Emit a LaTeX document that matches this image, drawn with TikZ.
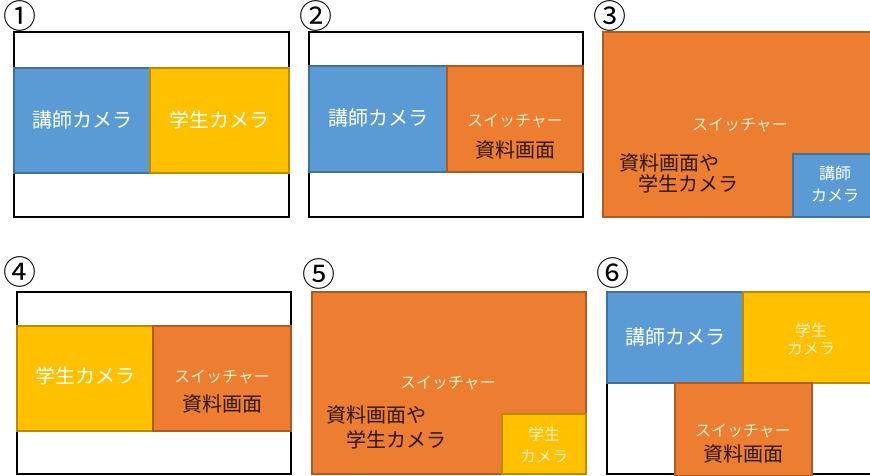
\documentclass[tikz,border=0pt]{standalone}
\usepackage{fontspec}
\setmainfont{Noto Sans CJK JP}
\definecolor{camblue}{HTML}{5B9BD5}
\definecolor{bluebd}{HTML}{41719C}
\definecolor{camyel}{HTML}{FFC000}
\definecolor{yelbd}{HTML}{BC8C00}
\definecolor{swor}{HTML}{ED7D31}
\definecolor{orbd}{HTML}{AE5A21}
\definecolor{paletxt}{HTML}{FFF2CC}
\definecolor{darktxt}{HTML}{2A1A10}
\tikzset{
  frame/.style={draw=black, line width=2.2pt, fill=white},
  bluebox/.style={draw=bluebd, fill=camblue, line width=1.3pt},
  yelbox/.style={draw=yelbd, fill=camyel, line width=1.3pt},
  orbox/.style={draw=orbd, fill=swor, line width=1.3pt},
  camtxt/.style={text=white, font=\fontsize{20pt}{24pt}\selectfont, inner sep=0pt},
  smalltxt/.style={text=white, font=\fontsize{16pt}{22pt}\selectfont, inner sep=0pt, align=center},
  swtxt/.style={text=paletxt, font=\fontsize{16pt}{20pt}\selectfont, inner sep=0pt},
  doctxt/.style={text=darktxt, font=\fontsize{20pt}{24pt}\selectfont, inner sep=0pt},
  numtxt/.style={text=black, font=\fontsize{33pt}{34pt}\selectfont, inner sep=0pt},
}
\begin{document}
\begin{tikzpicture}[x=1pt,y=-1pt]
\useasboundingbox (0,0) rectangle (870,476);
\clip (0,0) rectangle (870,476);
\fill[white] (0,0) rectangle (870,476);

% ---------- Panel 1 ----------
\node[numtxt] (n1) at (20,16) {①};
\draw[frame] (14,32) rectangle (289,217);
\draw[bluebox] (14,68) rectangle (150,173);
\draw[yelbox] (150,68) rectangle (289,173);
\node[camtxt] (p1a) at (82,120) {講師カメラ};
\node[camtxt] (p1b) at (219,120) {学生カメラ};

% ---------- Panel 2 ----------
\node[numtxt] (n2) at (316,16) {②};
\draw[frame] (309,32) rectangle (583,217);
\draw[bluebox] (309,66) rectangle (447,172);
\draw[orbox] (447,66) rectangle (583,172);
\node[camtxt] (p2a) at (378,118) {講師カメラ};
\node[swtxt] (p2b) at (515,121) {スイッチャー};
\node[doctxt] (p2c) at (515,150) {資料画面};

% ---------- Panel 3 ----------
\node[numtxt] (n3) at (610,16) {③};
\draw[orbox] (603,32) rectangle (880,217);
\draw[bluebox] (793,154) rectangle (880,217);
\node[swtxt] (p3a) at (740,125) {スイッチャー};
\node[doctxt, anchor=west] (p3b) at (619,163) {資料画面や};
\node[doctxt, anchor=west] (p3c) at (638,184) {学生カメラ};
\node[smalltxt] (p3d) at (835,184) {講師\\カメラ};

% ---------- Panel 4 ----------
\node[numtxt] (n4) at (20,272) {④};
\draw[frame] (17,292) rectangle (291,474);
\draw[yelbox] (17,326) rectangle (153,431);
\draw[orbox] (153,326) rectangle (291,431);
\node[camtxt] (p4a) at (85,376) {学生カメラ};
\node[swtxt] (p4b) at (222,377) {スイッチャー};
\node[doctxt] (p4c) at (222,404) {資料画面};

% ---------- Panel 5 ----------
\node[numtxt] (n5) at (319,274) {⑤};
\draw[orbox] (312,292) rectangle (586,474);
\draw[yelbox] (502,414) rectangle (586,474);
\node[swtxt] (p5a) at (448,383) {スイッチャー};
\node[doctxt, anchor=west] (p5b) at (326,415) {資料画面や};
\node[doctxt, anchor=west] (p5c) at (346,440) {学生カメラ};
\node[smalltxt, text=paletxt] (p5d) at (544,445) {学生\\カメラ};

% ---------- Panel 6 ----------
\node[numtxt] (n6) at (613,273) {⑥};
\draw[frame] (607,292) rectangle (880,474);
\draw[bluebox] (607,292) rectangle (743,383);
\draw[yelbox] (743,292) rectangle (880,383);
\draw[orbox] (675,383) rectangle (812,476);
\node[camtxt] (p6a) at (675,337) {講師カメラ};
\node[smalltxt, text=paletxt, font=\fontsize{16pt}{18pt}\selectfont] (p6b) at (811,339) {学生\\カメラ};
\node[swtxt] (p6c) at (743,431) {スイッチャー};
\node[doctxt] (p6d) at (743,454) {資料画面};
\end{tikzpicture}
\end{document}
